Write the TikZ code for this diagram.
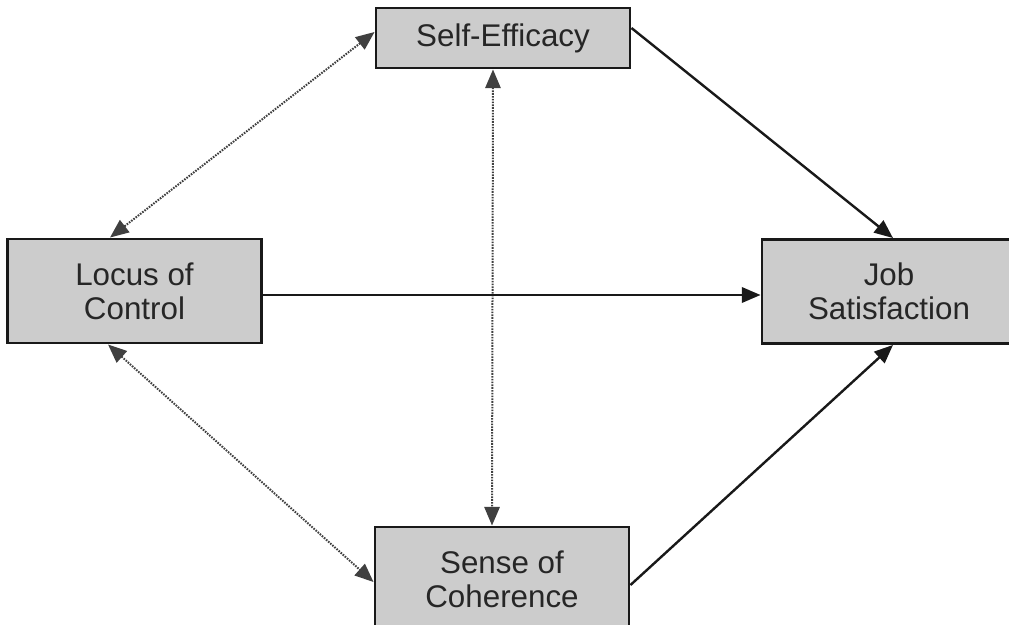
\documentclass[tikz,border=0pt]{standalone}
\usepackage{fontspec}
\setmainfont{Liberation Sans}
\usetikzlibrary{arrows.meta,calc}
\begin{document}
\begin{tikzpicture}[x=0.75pt,y=-0.75pt,
  box/.style={draw=black!90,line width=2.2pt,fill=black!20,text=black!85,
    align=center,inner sep=0pt,font=\fontsize{23.5}{25.5}\selectfont},
  dotline/.style={draw=black!75,line width=1.5pt,dash pattern=on 1.2pt off 0.9pt,
    {Triangle[length=14pt,width=11.5pt]}-{Triangle[length=14pt,width=11.5pt]}},
  solidline/.style={draw=black!90,line width=1.8pt,-{Triangle[length=14pt,width=11.5pt]}}]
\useasboundingbox (0,0) rectangle (1009,624);
\node[box,minimum width=190.5pt,minimum height=45pt] (se) at (503,38) {Self-Efficacy};
\node[box,minimum width=191pt,minimum height=78pt] (loc) at (134.5,291) {Locus of\\Control};
\node[box,minimum width=190.5pt,minimum height=78pt] (js) at (889,291.5) {Job\\Satisfaction};
\node[box,minimum width=190.5pt,minimum height=78pt] (soc) at (502,579) {Sense of\\Coherence};
\draw[dotline] ($(se.west)+(0,-6)$) -- ($(loc.north)+(-24.5,0)$);
\draw[dotline] ($(se.south)+(-10,0)$) -- ($(soc.north)+(-10,0)$);
\draw[dotline] ($(loc.south)+(-26.5,0)$) -- ($(soc.west)+(0,3)$);
\draw[solidline] ($(se.east)+(0,-10)$) -- ($(js.north)+(4,0)$);
\draw[solidline] ($(loc.east)+(0,4)$) -- ($(js.west)+(0,3.5)$);
\draw[solidline] ($(soc.east)+(0,6)$) -- ($(js.south)+(4,0)$);
\end{tikzpicture}
\end{document}
